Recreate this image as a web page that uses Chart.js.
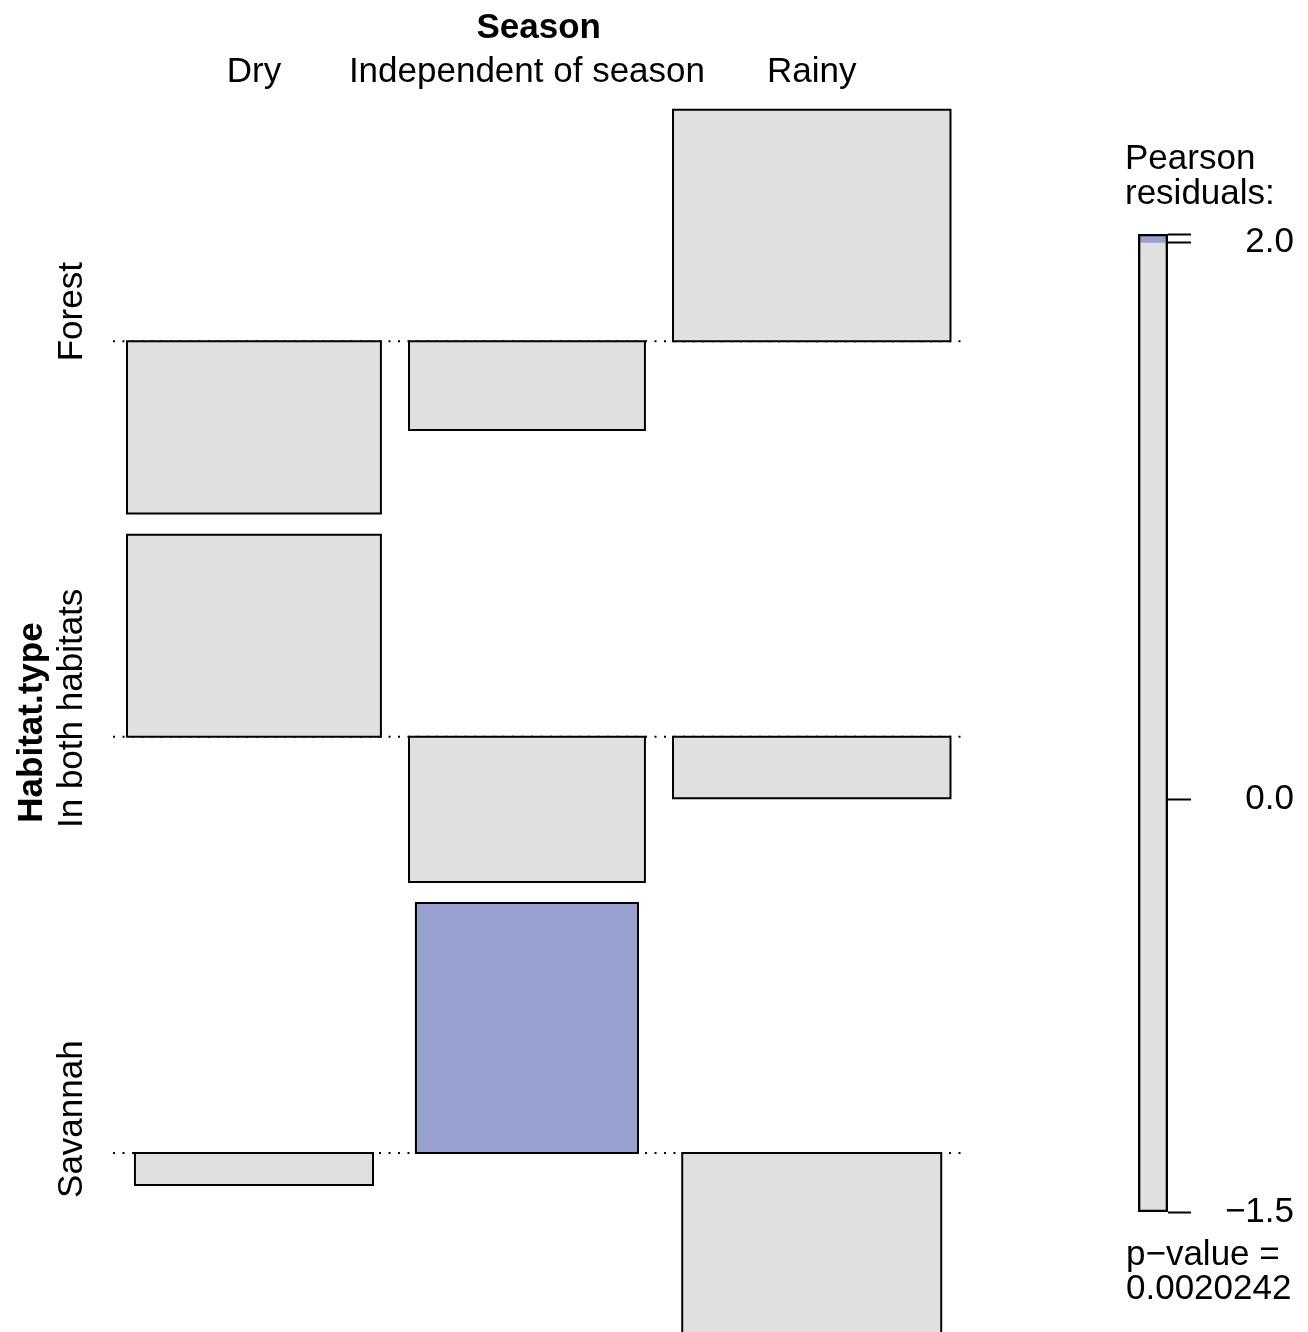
<!DOCTYPE html>
<html><head><meta charset="utf-8">
<script src="https://cdn.jsdelivr.net/npm/chart.js@4/dist/chart.umd.min.js"></script>
<style>
html,body{margin:0;padding:0;background:#fff;overflow:hidden;width:1308px;height:1332px;}
#main{position:absolute;left:0;top:0;}
#leg{position:absolute;left:1100px;top:0;}
</style></head>
<body>
<canvas id="main" width="1308" height="1346"></canvas>
<canvas id="leg" width="208" height="1332"></canvas>
<script>
// ---- data ----
const columnVar = 'Season';
const rowVar = 'Habitat.type';
const seasons = ['Dry', 'Independent of season', 'Rainy'];
const habitats = ['Forest', 'In both habitats', 'Savannah'];
// Pearson residuals per habitat (columns follow `seasons`)
const residForest   = [-1.40, -0.72, 1.88];
const residBoth     = [ 1.64, -1.18, -0.50];
const residSavannah = [-0.26,  2.03, -1.48];
// expected counts per habitat (box widths are proportional to their square roots)
const expectedForest   = [9.10, 7.86, 10.87];
const expectedBoth     = [9.10, 7.86, 10.87];
const expectedSavannah = [8.00, 6.96, 9.47];
const shadeCut = 2.0;
const legendTickLabels = ['\u22121.5', '0.0', '2.0', ''];
const legendTitle = ['Pearson', 'residuals:'];
const pValueText = ['p\u2212value =', '0.0020242'];

// ---- derived layout ----
const residRows = [residForest, residBoth, residSavannah];
const expRows = [expectedForest, expectedBoth, expectedSavannah];
const GREY = '#E0E0E0', BLUE = '#98A0D0';
const FONT = '"Liberation Sans", Arial, Helvetica, sans-serif';
const gapX = 1/3, gapY = 0.172;

const colMax = seasons.map((_, j) => Math.max(...expRows.map(r => Math.sqrt(r[j]))));
const colCenter = [];
let acc = 0;
colMax.forEach(w => { colCenter.push(acc + gapX/2 + w/2); acc += w + gapX; });
const xTotal = acc;

const rowBase = [], rowCenter = [];
let yacc = 0;
residRows.forEach(r => {
  const mp = Math.max(0, ...r), mn = Math.max(0, ...r.map(v => -v));
  const top = yacc;
  const base = top - gapY/2 - mp;
  const bottom = base - mn - gapY/2;
  rowBase.push(base); rowCenter.push((top + bottom)/2);
  yacc = bottom;
});
const yTotal = -yacc;

const datasets = [];
residRows.forEach((r, i) => {
  r.forEach((res, j) => {
    const hw = Math.sqrt(expRows[i][j]) / 2;
    const cx = colCenter[j], b = rowBase[i], t = b + res;
    datasets.push({
      data: [{x: cx - hw, y: b}, {x: cx - hw, y: t}, {x: cx + hw, y: t}, {x: cx + hw, y: b}, {x: cx - hw, y: b}],
      showLine: true, fill: 'shape', tension: 0,
      backgroundColor: res > shadeCut ? BLUE : (res < -shadeCut ? '#E8A0A0' : GREY),
      borderColor: '#000', borderWidth: 2, pointRadius: 0,
      borderJoinStyle: 'miter', borderCapStyle: 'square'
    });
  });
});
rowBase.forEach(b => {
  datasets.push({
    data: [{x: 0, y: b}, {x: xTotal, y: b}],
    showLine: true, fill: false, borderColor: '#000', borderWidth: 2,
    borderDash: [2, 7.5], pointRadius: 0, borderCapStyle: 'butt'
  });
});

const textPlugin = {
  id: 'assocText',
  afterDraw(chart) {
    const ctx = chart.ctx, xs = chart.scales.x, ys = chart.scales.y;
    ctx.save();
    ctx.fillStyle = '#000';
    ctx.textAlign = 'center';
    ctx.textBaseline = 'alphabetic';
    ctx.font = 'bold 35px ' + FONT;
    ctx.fillText(columnVar, xs.getPixelForValue(xTotal/2), 37.5);
    ctx.font = '35px ' + FONT;
    seasons.forEach((s, j) => ctx.fillText(s, xs.getPixelForValue(colCenter[j]), 82));
    habitats.forEach((h, i) => {
      ctx.save();
      ctx.translate(82, ys.getPixelForValue(rowCenter[i]));
      ctx.rotate(-Math.PI/2);
      ctx.fillText(h, 0, 0);
      ctx.restore();
    });
    ctx.font = 'bold 35px ' + FONT;
    ctx.save();
    ctx.translate(41.5, ys.getPixelForValue(-yTotal/2));
    ctx.rotate(-Math.PI/2);
    ctx.fillText(rowVar, 0, 0);
    ctx.restore();
    ctx.restore();
  }
};

new Chart(document.getElementById('main'), {
  type: 'scatter',
  data: { datasets },
  options: {
    responsive: false, animation: false, devicePixelRatio: 1, events: [],
    layout: { padding: { left: 113, right: 1308 - 964.5, top: 99.25, bottom: 0.25 } },
    plugins: { legend: { display: false }, tooltip: { enabled: false } },
    scales: {
      x: { type: 'linear', display: false, min: 0, max: xTotal },
      y: { type: 'linear', display: false, min: -yTotal, max: 0 }
    }
  },
  plugins: [textPlugin]
});

// ---- legend ----
const allRes = residRows.flat();
const rMin = Math.min(...allRes), rMax = Math.max(...allRes);
const legendTicks = [rMin, 0, shadeCut, rMax];

const legTextPlugin = {
  id: 'legText',
  afterDraw(chart) {
    const ctx = chart.ctx;
    ctx.save();
    ctx.fillStyle = '#000';
    ctx.textAlign = 'left';
    ctx.textBaseline = 'alphabetic';
    ctx.font = '35px ' + FONT;
    ctx.fillText(legendTitle[0], 25, 168.5);
    ctx.fillText(legendTitle[1], 25, 203.5);
    ctx.fillText(pValueText[0], 26, 1265);
    ctx.fillText(pValueText[1], 26, 1299);
    ctx.restore();
  }
};

new Chart(document.getElementById('leg'), {
  type: 'bar',
  data: {
    labels: ['res'],
    datasets: [
      { data: [[rMin, rMax]], backgroundColor: 'rgba(0,0,0,0)', borderColor: '#000', borderWidth: 2, borderSkipped: false, order: 0 },
      { data: [[shadeCut, rMax]], backgroundColor: BLUE, borderWidth: 0, order: 1 },
      { data: [[rMin, shadeCut]], backgroundColor: GREY, borderWidth: 0, order: 2 }
    ]
  },
  options: {
    responsive: false, animation: false, devicePixelRatio: 1, events: [],
    datasets: { bar: { grouped: false, barPercentage: 1, categoryPercentage: 1 } },
    layout: { padding: { left: 38, right: 14, top: 234, bottom: 1332 - 1212 } },
    plugins: { legend: { display: false }, tooltip: { enabled: false } },
    scales: {
      x: { display: false },
      y: {
        position: 'right', min: rMin, max: rMax,
        afterBuildTicks(s) { s.ticks = legendTicks.map(v => ({ value: v })); },
        afterFit(s) { s.width = 126; },
        ticks: {
          autoSkip: false, crossAlign: 'far', padding: 33.4, color: '#000',
          font: { size: 35, family: FONT },
          callback: (v, i) => legendTickLabels[i]
        },
        grid: { drawOnChartArea: false, drawTicks: true, tickLength: 23, tickColor: '#000', tickWidth: 2 },
        border: { display: false }
      }
    }
  },
  plugins: [legTextPlugin]
});
</script>
</body></html>
